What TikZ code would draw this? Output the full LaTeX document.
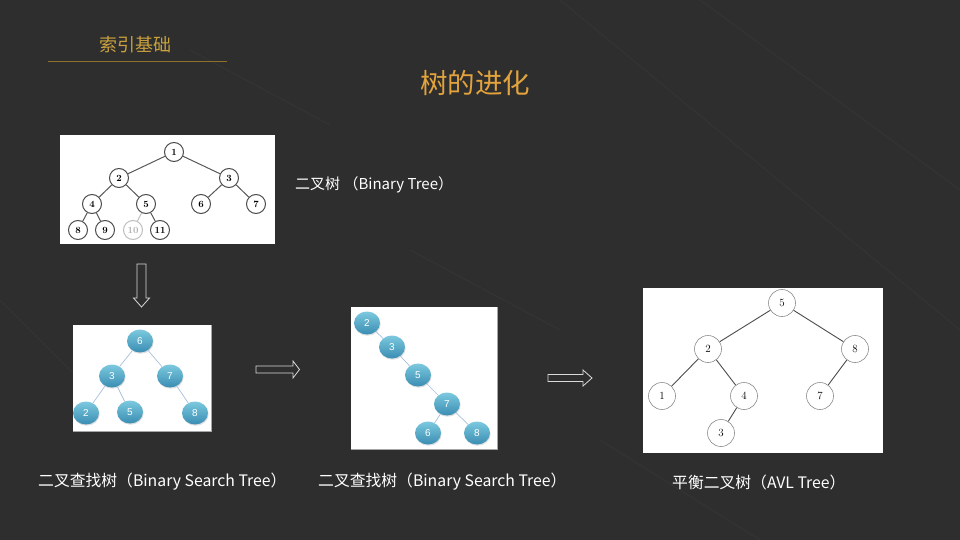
\documentclass[tikz,border=0pt]{standalone}
\usepackage{fontspec}
\newfontfamily\cjk{Noto Sans CJK SC}
\newfontfamily\numsans{Liberation Sans}
\usetikzlibrary{shapes.geometric,shadows}

\definecolor{bg}{HTML}{2E2E2E}
\definecolor{bgline}{HTML}{343434}
\definecolor{gold}{HTML}{C9A13E}
\definecolor{goldline}{HTML}{8F7029}
\definecolor{orangegold}{HTML}{E2A33C}
\definecolor{blueTop}{HTML}{7CC9DF}
\definecolor{blueBot}{HTML}{3A8DB2}
\definecolor{blueEdge}{HTML}{A9BEDC}

\tikzset{
  panel/.style={fill=white, draw=none},
  heapnode/.style={circle, draw=black!70, line width=1pt, minimum size=19pt, inner sep=0pt,
    font=\fontsize{9.5}{9.5}\selectfont\bfseries},
  heapedge/.style={draw=black!65, line width=1pt},
  bstnode/.style={ellipse, minimum width=26pt, minimum height=23pt, inner sep=0pt,
    top color=blueTop, bottom color=blueBot, draw=none, text=white,
    drop shadow={shadow xshift=0.6pt, shadow yshift=-1.2pt, opacity=0.25},
    font=\numsans\fontsize{10}{10}\selectfont},
  bstedge/.style={draw=blueEdge, line width=0.7pt},
  avlnode/.style={circle, draw=black!45, line width=0.6pt, minimum size=27pt, inner sep=0pt,
    fill=white, font=\fontsize{11}{11}\selectfont},
  avledge/.style={draw=black!70, line width=0.9pt},
  caption/.style={text=white, anchor=west, inner sep=0pt, font=\cjk\fontsize{15.8}{18}\selectfont},
  hollowarrow/.style={draw=white!85!black, line width=0.8pt, fill=none, line join=miter}
}

\begin{document}
\begin{tikzpicture}[x=1pt, y=-1pt]
  % page
  \fill[bg] (0,0) rectangle (960,540);
  \useasboundingbox (0,0) rectangle (960,540);

  % faint streaks in the backdrop
  \begin{scope}[bgline, line width=1pt]
    \draw (190,50) -- (330,125);
    \draw (0,300) -- (120,420);
    \draw (560,0) -- (960,330);
    \draw (700,0) -- (960,190);
    \draw (410,250) -- (560,330);
    \draw (600,440) -- (760,540);
  \end{scope}

  % headings
  \node[text=gold, font=\cjk\fontsize{18}{20}\selectfont] (section) at (135,45) {索引基础};
  \draw[goldline, line width=1pt] (48,62) -- (227,62);
  \node[text=orangegold, font=\cjk\fontsize{27.5}{30}\selectfont] (title) at (475,83) {树的进化};

  % ---- binary tree ----
  \fill[panel] (60,135) rectangle (275,244);
  \node[heapnode] (h1) at (174,152) {1};
  \node[heapnode] (h2) at (119,178) {2};
  \node[heapnode] (h3) at (229,178) {3};
  \node[heapnode] (h4) at (92,204) {4};
  \node[heapnode] (h5) at (146,204) {5};
  \node[heapnode] (h6) at (201,204) {6};
  \node[heapnode] (h7) at (256,204) {7};
  \node[heapnode] (h8) at (78,230) {8};
  \node[heapnode] (h9) at (105,230) {9};
  \node[heapnode, draw=black!25, text=black!30] (h10) at (133,230) {10};
  \node[heapnode] (h11) at (160,230) {11};
  \draw[heapedge] (h1) -- (h2);
  \draw[heapedge] (h1) -- (h3);
  \draw[heapedge] (h2) -- (h4);
  \draw[heapedge] (h2) -- (h5);
  \draw[heapedge] (h3) -- (h6);
  \draw[heapedge] (h3) -- (h7);
  \draw[heapedge] (h4) -- (h8);
  \draw[heapedge] (h4) -- (h9);
  \draw[heapedge, draw=black!25] (h5) -- (h10);
  \draw[heapedge] (h5) -- (h11);
  \node[text=white, anchor=west, inner sep=0pt, font=\cjk\fontsize{15}{18}\selectfont] (btlabel) at (295,185) {二叉树 （Binary Tree）};

  % ---- hollow arrows ----
  \draw[hollowarrow] (137,264) -- (146,264) -- (146,298) -- (149.5,298) -- (141.5,307)
     -- (133.5,298) -- (137,298) -- cycle;
  \draw[hollowarrow] (256,366) -- (293,366) -- (293,361) -- (299.5,369.5) -- (293,378)
     -- (293,373) -- (256,373) -- cycle;
  \draw[hollowarrow] (548,374.5) -- (583,374.5) -- (583,370) -- (592,378) -- (583,386)
     -- (583,381.5) -- (548,381.5) -- cycle;

  % ---- balanced search tree ----
  \fill[panel] (73,325) rectangle (211,431);
  \draw[black!35, line width=0.6pt] (211,325) -- (211,431) -- (73,431);
  \node[bstnode] (a6) at (140,341) {6};
  \node[bstnode] (a3) at (112,376) {3};
  \node[bstnode] (a7) at (170,376) {7};
  \node[bstnode] (a2) at (86,413) {2};
  \node[bstnode] (a5) at (130,412) {5};
  \node[bstnode] (a8) at (195,413) {8};
  \draw[bstedge] (a6) -- (a3);
  \draw[bstedge] (a6) -- (a7);
  \draw[bstedge] (a3) -- (a2);
  \draw[bstedge] (a3) -- (a5);
  \draw[bstedge] (a7) -- (a8);

  % ---- degenerate search tree ----
  \fill[panel] (351,307) rectangle (497,449);
  \draw[black!35, line width=0.6pt] (497,307) -- (497,449) -- (351,449);
  \node[bstnode] (b2) at (367,323) {2};
  \node[bstnode] (b3) at (392,347) {3};
  \node[bstnode] (b5) at (418,375) {5};
  \node[bstnode] (b7) at (447,404) {7};
  \node[bstnode] (b6) at (428,433) {6};
  \node[bstnode] (b8) at (477,433) {8};
  \draw[bstedge] (b2) -- (b3);
  \draw[bstedge] (b3) -- (b5);
  \draw[bstedge] (b5) -- (b7);
  \draw[bstedge] (b7) -- (b6);
  \draw[bstedge] (b7) -- (b8);

  % ---- AVL tree ----
  \fill[panel] (643,288) rectangle (883,453);
  \node[avlnode] (c5) at (782,303) {5};
  \node[avlnode] (c2) at (708,349) {2};
  \node[avlnode] (c8) at (855,349) {8};
  \node[avlnode] (c1) at (662,396) {1};
  \node[avlnode] (c4) at (744,396) {4};
  \node[avlnode] (c7) at (820,396) {7};
  \node[avlnode] (c3) at (721,433) {3};
  \draw[avledge] (c5) -- (c2);
  \draw[avledge] (c5) -- (c8);
  \draw[avledge] (c2) -- (c1);
  \draw[avledge] (c2) -- (c4);
  \draw[avledge] (c8) -- (c7);
  \draw[avledge] (c4) -- (c3);

  % captions
  \node[caption] (cap1) at (38,482) {二叉查找树（Binary Search Tree）};
  \node[caption] (cap2) at (318,482) {二叉查找树（Binary Search Tree）};
  \node[caption] (cap3) at (672,482) {平衡二叉树（AVL Tree）};
\end{tikzpicture}
\end{document}
